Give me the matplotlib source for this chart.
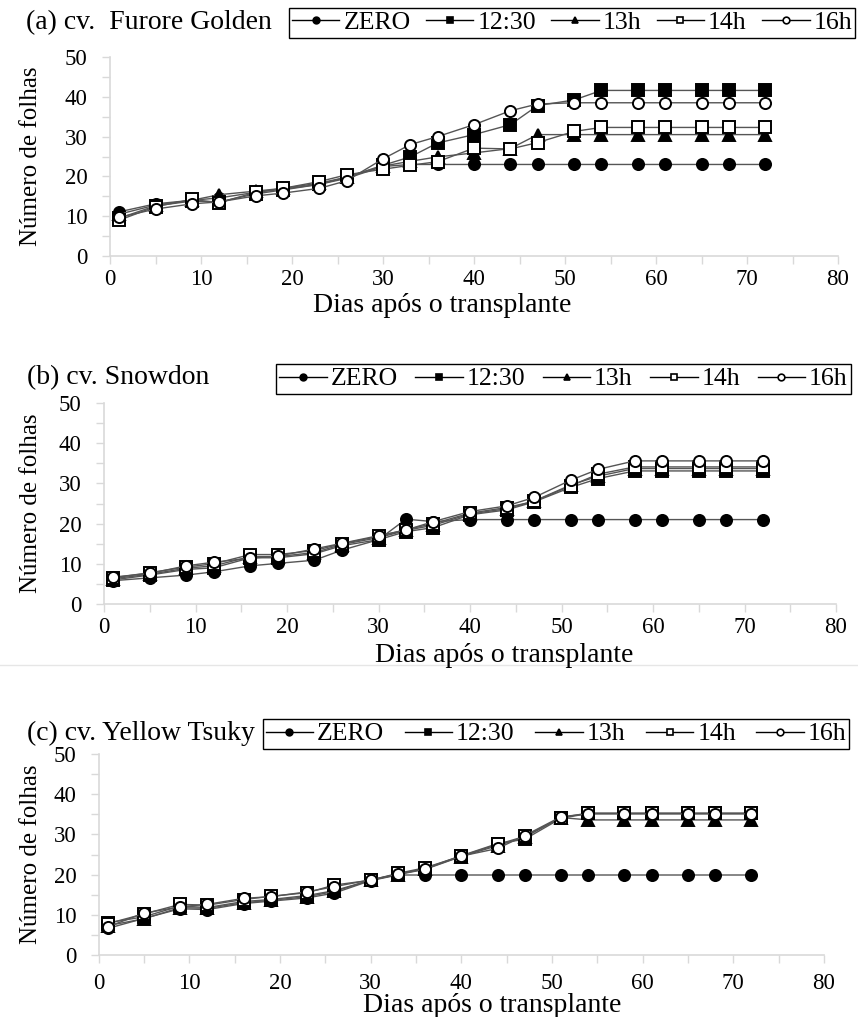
import matplotlib
matplotlib.use("Agg")
import matplotlib.pyplot as plt
from matplotlib.lines import Line2D
from matplotlib.ticker import MultipleLocator

plt.rcParams['font.family'] = ['Liberation Serif', 'DejaVu Serif']

days = [1, 5, 9, 12, 16, 19, 23, 26, 30, 33, 36, 40, 44, 47, 51, 54, 58, 61, 65, 68, 72]
series_names = ["ZERO", "12:30", "13h", "14h", "16h"]

# (a) Furore Golden
a_zero = [11.1, 13.1, 14.0, 14.6, 16.0, 16.8, 18.0, 19.5, 22.5, 23.0, 23.0, 23.0, 23.0, 23.0, 23.0, 23.0, 23.0, 23.0, 23.0, 23.0, 23.0]
a_1230 = [9.5, 12.6, 13.8, 13.6, 15.6, 16.6, 18.0, 19.8, 22.8, 24.9, 28.4, 30.5, 33.0, 37.8, 39.2, 41.6, 41.6, 41.6, 41.6, 41.6, 41.6]
a_13h = [10.5, 12.8, 14.0, 15.4, 16.3, 17.0, 18.3, 19.8, 22.6, 23.8, 24.9, 25.9, 27.0, 30.5, 30.5, 30.5, 30.5, 30.5, 30.5, 30.5, 30.5]
a_14h = [9.0, 12.4, 14.2, 13.4, 16.0, 17.0, 18.7, 20.4, 21.8, 22.8, 23.7, 27.1, 26.9, 28.5, 31.3, 32.3, 32.3, 32.3, 32.3, 32.3, 32.3]
a_16h = [9.7, 11.8, 13.1, 13.6, 15.1, 15.8, 17.0, 18.9, 24.4, 28.0, 30.0, 33.0, 36.5, 38.2, 38.5, 38.5, 38.5, 38.5, 38.5, 38.5, 38.5]

# (b) Snowdon
b_zero = [5.8, 6.5, 7.2, 8.0, 9.5, 10.1, 10.9, 13.4, 16.0, 21.1, 20.5, 21.0, 21.0, 21.0, 21.0, 21.0, 21.0, 21.0, 21.0, 21.0, 21.0]
b_1230 = [6.0, 7.2, 8.6, 9.0, 11.5, 11.5, 12.5, 14.5, 16.0, 18.0, 19.0, 22.2, 23.4, 25.4, 29.0, 31.2, 33.1, 33.1, 33.1, 33.1, 33.1]
b_13h = [6.3, 7.4, 8.9, 9.5, 11.8, 11.8, 12.8, 14.8, 16.5, 18.3, 19.6, 22.4, 23.7, 25.6, 29.6, 31.8, 33.7, 33.7, 33.7, 33.7, 33.7]
b_14h = [6.5, 7.8, 9.2, 10.0, 12.3, 12.3, 13.3, 15.0, 16.8, 18.5, 20.0, 22.6, 24.0, 25.5, 29.4, 32.3, 34.1, 34.1, 34.1, 34.1, 34.1]
b_16h = [6.7, 7.6, 9.5, 10.4, 11.4, 11.9, 13.7, 15.1, 17.0, 18.4, 20.5, 23.0, 24.4, 26.5, 30.8, 33.5, 35.6, 35.6, 35.6, 35.6, 35.6]

# (c) Yellow Tsuky
c_zero = [6.6, 9.1, 11.5, 11.3, 12.8, 13.4, 14.2, 15.4, 18.5, 19.9, 19.9, 19.9, 19.9, 19.9, 19.9, 19.9, 19.9, 19.9, 19.9, 19.9, 19.9]
c_1230 = [8.0, 9.5, 12.2, 11.8, 13.3, 13.8, 14.8, 16.0, 18.6, 20.1, 21.5, 24.7, 27.7, 28.8, 34.0, 35.2, 35.2, 35.2, 35.2, 35.2, 35.2]
c_13h = [7.3, 9.0, 11.8, 11.6, 13.0, 13.6, 14.5, 15.8, 18.6, 20.0, 21.3, 24.5, 27.2, 29.3, 34.2, 33.6, 33.6, 33.6, 33.6, 33.6, 33.6]
c_14h = [7.8, 10.2, 12.6, 12.4, 13.8, 14.6, 15.5, 17.4, 18.6, 20.3, 21.7, 24.6, 27.5, 29.5, 34.2, 35.3, 35.3, 35.3, 35.3, 35.3, 35.3]
c_16h = [7.0, 10.4, 12.0, 12.6, 14.1, 14.5, 15.7, 17.0, 18.7, 20.1, 21.4, 24.6, 26.5, 29.7, 34.4, 35.1, 35.1, 35.1, 35.1, 35.1, 35.1]

titles = ["(a) cv.  Furore Golden", "(b) cv. Snowdon", "(c) cv. Yellow Tsuky"]
xlabel = "Dias após o transplante"
ylabel = "Número de folhas"

panels = [
    [a_zero, a_1230, a_13h, a_14h, a_16h],
    [b_zero, b_1230, b_13h, b_14h, b_16h],
    [c_zero, c_1230, c_13h, c_14h, c_16h],
]

styles = [
    dict(marker='o', mfc='black', mec='black'),
    dict(marker='s', mfc='black', mec='black'),
    dict(marker='^', mfc='black', mec='black'),
    dict(marker='s', mfc='white', mec='black'),
    dict(marker='o', mfc='white', mec='black'),
]

W, H = 858, 1017
fig = plt.figure(figsize=(W / 100, H / 100), dpi=100)

# axes boxes in pixels: left, right(x=80), top(y=50), bottom(y=0)
boxes = [(110, 838, 57, 256), (104, 836, 403, 604), (98.5, 824, 754, 955)]
title_pos = [(26, 23), (27, 378), (27, 733)]
legend_center = [(572, 23), (563.5, 379), (556, 734)]
legend_colsp = [0.6, 0.68, 0.8]
xlabel_pos = [(442, 306), (504, 656), (492, 1005)]
xtick_pad = [3.5, 3.5, 7]

grey = '#d9d9d9'
for i, (l, r, t, b) in enumerate(boxes):
    ax = fig.add_axes([l / W, 1 - b / H, (r - l) / W, (b - t) / H])
    for vals, st in zip(panels[i], styles):
        ax.plot(days, vals, color='#555555', lw=1.0, ms=8, mew=1.4,
                clip_on=False, **st)
    ax.set_xlim(0, 80)
    ax.set_ylim(0, 50)
    ax.xaxis.set_major_locator(MultipleLocator(10))
    ax.xaxis.set_minor_locator(MultipleLocator(5))
    ax.yaxis.set_major_locator(MultipleLocator(10))
    ax.yaxis.set_minor_locator(MultipleLocator(5))
    for sp in ['top', 'right']:
        ax.spines[sp].set_visible(False)
    for sp in ['left', 'bottom']:
        ax.spines[sp].set_color(grey)
        ax.spines[sp].set_linewidth(1.2)
    ax.tick_params(which='both', direction='out', length=6, width=1.0,
                   color=grey, labelsize=16.5)
    ax.tick_params(axis='y', which='both', pad=10)
    ax.tick_params(axis='x', which='both', pad=xtick_pad[i])
    ax.set_ylabel(ylabel, fontsize=18)
    ax.yaxis.set_label_coords((42 - l) / (r - l), 0.5)
    fig.text(xlabel_pos[i][0] / W, 1 - xlabel_pos[i][1] / H, xlabel,
             fontsize=20, ha='center', va='center')
    fig.text(title_pos[i][0] / W, 1 - title_pos[i][1] / H, titles[i],
             fontsize=20, ha='left', va='center')
    handles = [Line2D([], [], color='black', lw=1.0, ms=4.8, mew=1.2, **st)
               for st in styles]
    leg = fig.legend(handles, series_names, loc='center',
                     bbox_to_anchor=(legend_center[i][0] / W, 1 - legend_center[i][1] / H),
                     ncol=5, fontsize=18.5, frameon=True, fancybox=False,
                     edgecolor='black', framealpha=1, borderpad=0.12,
                     handlelength=1.85, handletextpad=0.15,
                     columnspacing=legend_colsp[i], borderaxespad=0)
    leg.get_frame().set_linewidth(1.0)

# faint separator line between panels (b) and (c)
fig.add_artist(Line2D([0, 1], [1 - 665 / H, 1 - 665 / H], transform=fig.transFigure,
                      color='#e6e6e6', lw=1.0))

fig.savefig("out.png", dpi=100, facecolor='white')
